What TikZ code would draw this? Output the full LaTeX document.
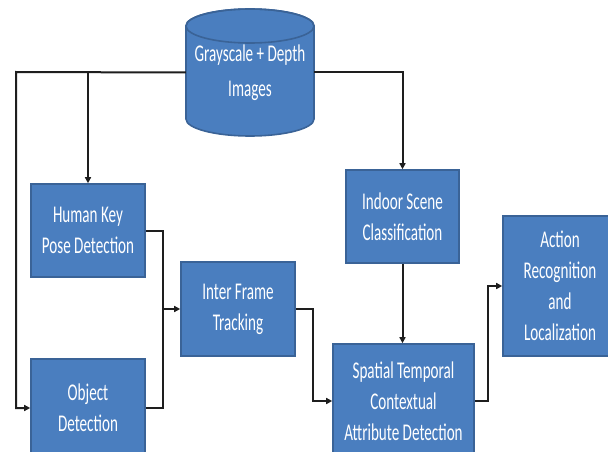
\documentclass[tikz,border=0pt]{standalone}
\usepackage{fontspec}
\setmainfont[FakeStretch=0.63]{Carlito}
\usetikzlibrary{arrows.meta}
\definecolor{boxfill}{HTML}{4A7EBF}
\definecolor{boxedge}{HTML}{3A6397}
\definecolor{wire}{HTML}{1E1E1E}
\tikzset{
  stage/.style={draw=boxedge, line width=1.6pt, fill=boxfill, text=white,
    align=center, inner sep=0pt, font=\fontsize{24}{31}\selectfont},
  link/.style={draw=wire, line width=2pt,
    -{Triangle[length=6pt,width=6pt]}},
  plain/.style={draw=wire, line width=2pt}
}
\begin{document}
\begin{tikzpicture}[x=1pt,y=-1pt]
\useasboundingbox (0,0) rectangle (608,452);
\clip (0,0) rectangle (608,452);
\fill[white] (0,0) rectangle (608,452);

% image store (cylinder)
\path[fill=boxfill, draw=boxedge, line width=1.6pt]
  (186,26) -- (186,119) arc[start angle=180, end angle=360, x radius=64pt, y radius=17pt]
  -- (314,26) arc[start angle=0, end angle=180, x radius=64pt, y radius=17pt] -- cycle;
\draw[boxedge, line width=1.6pt] (250,26) ellipse[x radius=64pt, y radius=17pt];
\node[text=white, align=center, inner sep=0pt, minimum width=128pt, minimum height=60pt,
  font=\fontsize{24}{33}\selectfont] (cyl) at (250,72.5) {Grayscale + Depth\\[2pt]Images};

% processing stages
\node[stage, minimum width=114pt, minimum height=93pt] (hk)  at (88,230.5)  {Human Key\\Pose Detection};
\node[stage, minimum width=114pt, minimum height=98pt] (obj) at (88,408)    {Object\\Detection};
\node[stage, minimum width=114pt, minimum height=94pt] (ift) at (238,309)   {Inter Frame\\Tracking};
\node[stage, minimum width=113pt, minimum height=93pt] (isc) at (402.5,216.5) {Indoor Scene\\Classification};
\node[stage, minimum width=141pt, minimum height=114pt] (stc) at (403.5,401) {Spatial Temporal\\Contextual\\Attribute Detection};
\node[stage, minimum width=114pt, minimum height=140pt] (arl) at (560,286)  {Action\\Recognition\\and\\Localization};

% junction points
\coordinate (lft) at (16,72);
\coordinate (merge) at (163,309);
\coordinate (st) at (313,309);
\coordinate (ac) at (488,401);

% connectors
\draw[link] (cyl.west) -- (lft) |- (obj.west);
\draw[link] (hk.north |- cyl.west) -- (hk.north);
\draw[link] (cyl.east) -| (isc.north);
\draw[plain] (hk.east) -| (merge);
\draw[plain] (obj.east) -| (merge);
\draw[link] (merge) -- (ift.west);
\draw[link] (ift.east) -- (st) |- (stc.west);
\draw[link] (isc.south) -- (isc.south |- stc.north);
\draw[link] (stc.east) -- (ac) |- (arl.west);
\end{tikzpicture}
\end{document}
